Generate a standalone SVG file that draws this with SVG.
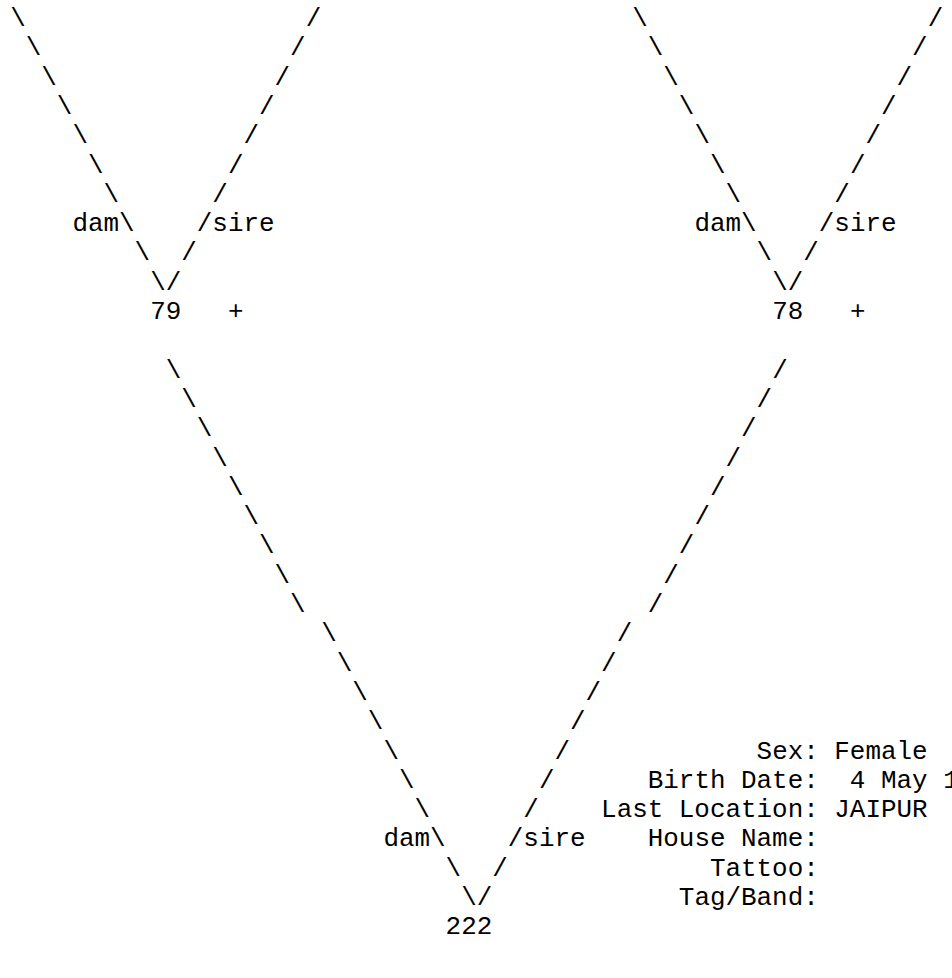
<svg xmlns="http://www.w3.org/2000/svg" width="952" height="978" viewBox="0 0 952 978">
<style>
  text { font-family: "Liberation Mono", "Courier New", monospace; font-size: 25.92px; fill: #000; white-space: pre; }
</style>
<rect x="0" y="0" width="952" height="978" fill="#fff"/>
<g id="connectors">
  <!-- left parent V (into 79) -->
  <text x="10.2 25.75 41.3 56.85 72.4 87.95 103.5 134.6" y="26 55.3 84.6 113.9 143.2 172.5 201.8 260.4">\\\\\\\\</text>
  <text x="305.65 290.1 274.55 259 243.45 227.9 212.35 181.25" y="26 55.3 84.6 113.9 143.2 172.5 201.8 260.4">////////</text>
  <text x="72.4" y="231.1">dam\</text>
  <text x="196.8" y="231.1">/sire</text>
  <text x="150.15" y="289.7">\/</text>
  <!-- right parent V (into 78) -->
  <text x="632.2 647.75 663.3 678.85 694.4 709.95 725.5 756.6" y="26 55.3 84.6 113.9 143.2 172.5 201.8 260.4">\\\\\\\\</text>
  <text x="927.65 912.1 896.55 881 865.45 849.9 834.35 803.25" y="26 55.3 84.6 113.9 143.2 172.5 201.8 260.4">////////</text>
  <text x="694.4" y="231.1">dam\</text>
  <text x="818.8" y="231.1">/sire</text>
  <text x="772.15" y="289.7">\/</text>
  <!-- bottom V (79 and 78 into 222) -->
  <text x="165.7 181.25 196.8 212.35 227.9 243.45 259 274.55 290.1 321.2 336.75 352.3 367.85 383.4 398.95 414.5 445.6" y="377.6 406.9 436.2 465.5 494.8 524.1 553.4 582.7 612 641.3 670.6 699.9 729.2 758.5 787.8 817.1 875.7">\\\\\\\\\\\\\\\\\</text>
  <text x="772.15 756.6 741.05 725.5 709.95 694.4 678.85 663.3 647.75 616.65 601.1 585.55 570 554.45 538.9 523.35 492.25" y="377.6 406.9 436.2 465.5 494.8 524.1 553.4 582.7 612 641.3 670.6 699.9 729.2 758.5 787.8 817.1 875.7">/////////////////</text>
  <text x="383.4" y="846.4">dam\</text>
  <text x="507.8" y="846.4">/sire</text>
  <text x="461.15" y="905">\/</text>
</g>
<g id="node-79">
  <text x="150.15" y="319">79</text>
  <text x="227.9" y="319">+</text>
</g>
<g id="node-78">
  <text x="772.15" y="319">78</text>
  <text x="849.9" y="319">+</text>
</g>
<g id="node-222">
  <text x="445.6" y="934.3">222</text>
  <g id="node-222-info">
    <text x="756.6" y="758.5">Sex: Female</text>
    <text x="647.75" y="787.8">Birth Date:  4 May 1</text>
    <text x="601.1" y="817.1">Last Location: JAIPUR</text>
    <text x="647.75" y="846.4">House Name:</text>
    <text x="709.95" y="875.7">Tattoo:</text>
    <text x="678.85" y="905">Tag/Band:</text>
  </g>
</g>
</svg>
